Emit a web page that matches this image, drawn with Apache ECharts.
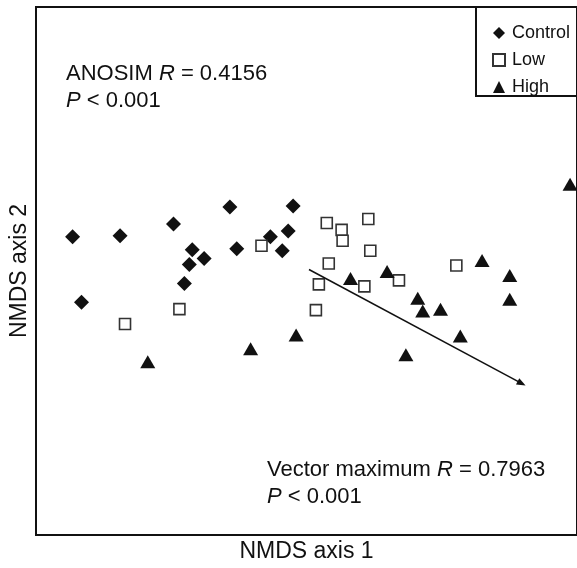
<!DOCTYPE html>
<html><head><meta charset="utf-8">
<script src="https://cdn.jsdelivr.net/npm/echarts@6/dist/echarts.min.js"></script>
<style>html,body{margin:0;padding:0;background:#fff}#c{width:577px;height:568px}</style>
</head><body><div id="c"></div>
<script>
// NMDS ordination positions (arbitrary NMDS units)
const seriesNames = ['Control', 'Low', 'High'];
const controlX = [37, 85, 46, 139, 196, 260, 158, 170, 155, 150, 203, 237, 255, 249];
const controlY = [301, 302, 235, 314, 331, 332, 288, 279, 273, 254, 289, 301, 307, 287];
const lowX = [294, 309, 310, 336, 338, 296, 286, 332, 367, 283, 425, 228, 90, 145];
const lowY = [315, 308, 297, 319, 287, 274, 253, 251, 257, 227, 272, 292, 213, 228];
const highX = [113, 217, 263, 318, 355, 386, 391, 409, 429, 374, 451, 479, 479, 540];
const highY = [175, 188, 202, 259, 266, 239, 226, 228, 201, 182, 277, 262, 238, 354];
const vectorStart = [276, 268];
const vectorEnd = [491, 153];
const xRange = [0, 547];
const yRange = [0, 533];

const zip = (xs, ys) => xs.map((x, i) => [x, ys[i]]);
const FONT = 'Liberation Sans, Arial, sans-serif';
const ink = '#111';

const chart = echarts.init(document.getElementById('c'), null, {renderer: 'canvas'});
chart.setOption({
  animation: false,
  backgroundColor: '#fff',
  grid: {left: 33, top: 7, right: -3, bottom: 28, show: true, borderColor: ink, borderWidth: 2, containLabel: false},
  xAxis: {
    type: 'value', min: xRange[0], max: xRange[1],
    name: 'NMDS axis 1', nameLocation: 'middle', nameGap: 5,
    nameTextStyle: {fontSize: 23, color: ink, fontFamily: FONT, verticalAlign: 'top'},
    axisLine: {show: false}, axisTick: {show: false}, axisLabel: {show: false}, splitLine: {show: false}
  },
  yAxis: {
    type: 'value', min: yRange[0], max: yRange[1],
    name: 'NMDS axis 2', nameLocation: 'middle', nameGap: 5,
    nameTextStyle: {fontSize: 23, color: ink, fontFamily: FONT},
    axisLine: {show: false}, axisTick: {show: false}, axisLabel: {show: false}, splitLine: {show: false}
  },
  legend: {
    orient: 'vertical', left: 487, top: 19, itemWidth: 12, itemHeight: 12, itemGap: 9,
    textStyle: {fontSize: 18, color: ink, fontFamily: FONT, padding: [0, 0, 0, 2]},
    data: seriesNames
  },
  series: [
    {name: seriesNames[0], type: 'scatter', symbol: 'diamond', symbolSize: 15,
     itemStyle: {color: ink, opacity: 1}, data: zip(controlX, controlY),
     markLine: {silent: true, symbol: ['none', 'triangle'], symbolSize: [7, 9], label: {show: false},
       lineStyle: {color: ink, width: 1.5, type: 'solid', opacity: 1},
       data: [[{coord: vectorStart}, {coord: vectorEnd}]]}},
    {name: seriesNames[1], type: 'scatter', symbol: 'rect', symbolSize: 11,
     itemStyle: {color: '#fff', borderColor: '#333', borderWidth: 1.6, opacity: 1}, data: zip(lowX, lowY)},
    {name: seriesNames[2], type: 'scatter', symbol: 'triangle', symbolSize: [15, 13],
     itemStyle: {color: ink, opacity: 1}, data: zip(highX, highY)}
  ],
  graphic: [
    {type: 'rect', shape: {x: 476, y: 7, width: 130, height: 89}, style: {fill: 'none', stroke: ink, lineWidth: 2}},
    {type: 'text', left: 66, top: 60, style: {
      text: 'ANOSIM {i|R} = 0.4156\n{i|P} < 0.001', font: '22px ' + FONT, fill: ink, lineHeight: 27,
      rich: {i: {fontStyle: 'italic', fontSize: 22, fontFamily: FONT, fill: ink, lineHeight: 27}}}},
    {type: 'text', left: 267, top: 456, style: {
      text: 'Vector maximum {i|R} = 0.7963\n{i|P} < 0.001', font: '22px ' + FONT, fill: ink, lineHeight: 27,
      rich: {i: {fontStyle: 'italic', fontSize: 22, fontFamily: FONT, fill: ink, lineHeight: 27}}}}
  ]
});
</script></body></html>
